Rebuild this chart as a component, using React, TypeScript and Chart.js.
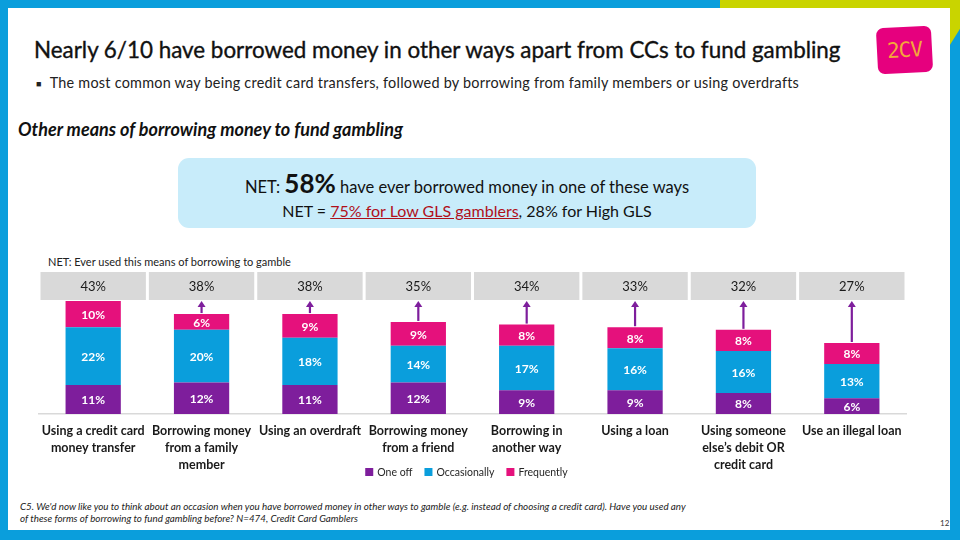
import React, { useEffect, useRef } from "react";
import { Chart, registerables } from "chart.js";
Chart.register(...registerables);

const categories: string[][] = [
  ["Using a credit card", "money transfer"],
  ["Borrowing money", "from a family", "member"],
  ["Using an overdraft"],
  ["Borrowing money", "from a friend"],
  ["Borrowing in", "another way"],
  ["Using a loan"],
  ["Using someone", "else\u2019s debit OR", "credit card"],
  ["Use an illegal loan"],
];
const oneOff = [11, 12, 11, 12, 9, 9, 8, 6];
const occasionally = [22, 20, 18, 14, 17, 16, 16, 13];
const frequently = [10, 6, 9, 9, 8, 8, 8, 8];
const netValues = [43, 38, 38, 35, 34, 33, 32, 27];
const seriesLabels = ["One off", "Occasionally", "Frequently"];
const seriesColors = ["#7e1e9c", "#0a9edc", "#e5117c"];

const FONT = "Lato, 'Open Sans', sans-serif";

const decor = {
  id: "decor",
  beforeDatasetsDraw(chart: any) {
    const { ctx, chartArea, scales } = chart;
    const x = scales.x;
    const y = scales.y;
    const step = x.getPixelForValue(1) - x.getPixelForValue(0);
    const boxH = 28;
    ctx.save();
    for (let i = 0; i < categories.length; i++) {
      const cx = x.getPixelForValue(i);
      ctx.fillStyle = "#d9d9d9";
      ctx.fillRect(cx - step / 2 + 1.5, chartArea.top, step - 3, boxH);
      ctx.fillStyle = "#1a1a1a";
      ctx.font = `13px ${FONT}`;
      ctx.textAlign = "center";
      ctx.textBaseline = "middle";
      ctx.fillText(netValues[i] + "%", cx, chartArea.top + boxH / 2 + 1);
      if (i >= 1) {
        const total = oneOff[i] + occasionally[i] + frequently[i];
        const barTop = y.getPixelForValue(total);
        const tipY = chartArea.top + boxH + 1;
        ctx.strokeStyle = "#7e1e9c";
        ctx.lineWidth = 2.2;
        ctx.beginPath();
        ctx.moveTo(cx, barTop - 1);
        ctx.lineTo(cx, tipY + 5);
        ctx.stroke();
        ctx.fillStyle = "#7e1e9c";
        ctx.beginPath();
        ctx.moveTo(cx, tipY);
        ctx.lineTo(cx - 4, tipY + 6);
        ctx.lineTo(cx + 4, tipY + 6);
        ctx.closePath();
        ctx.fill();
      }
    }
    ctx.restore();
  },
  afterDatasetsDraw(chart: any) {
    const { ctx } = chart;
    ctx.save();
    ctx.font = `bold 12px ${FONT}`;
    ctx.fillStyle = "#ffffff";
    ctx.textAlign = "center";
    ctx.textBaseline = "middle";
    chart.data.datasets.forEach((ds: any, di: number) => {
      const meta = chart.getDatasetMeta(di);
      meta.data.forEach((el: any, i: number) => {
        const p = el.getProps(["x", "y", "base"], true);
        ctx.fillText(ds.data[i] + "%", p.x, (p.y + p.base) / 2 + 1);
      });
    });
    ctx.restore();
  },
  afterDraw(chart: any) {
    const { ctx, chartArea } = chart;
    ctx.save();
    ctx.font = `10.5px ${FONT}`;
    ctx.textBaseline = "middle";
    const sq = 8;
    const gap = 4;
    const spacing = 12;
    const widths = seriesLabels.map((l) => ctx.measureText(l).width);
    const total = widths.reduce((a, w) => a + sq + gap + w, 0) + spacing * (seriesLabels.length - 1);
    let lx = (chartArea.left + chartArea.right) / 2 - 6 - total / 2;
    const ly = 222;
    seriesLabels.forEach((l, i) => {
      ctx.fillStyle = seriesColors[i];
      ctx.fillRect(lx, ly - sq / 2, sq, sq);
      ctx.fillStyle = "#262626";
      ctx.textAlign = "left";
      ctx.fillText(l, lx + sq + gap, ly + 1);
      lx += sq + gap + widths[i] + spacing;
    });
    ctx.restore();
  },
};

function ChartBox() {
  const ref = useRef<HTMLCanvasElement>(null);
  useEffect(() => {
    if (!ref.current) return;
    const chart = new Chart(ref.current, {
      type: "bar",
      data: {
        labels: categories,
        datasets: [
          { label: seriesLabels[0], data: oneOff, backgroundColor: seriesColors[0] },
          { label: seriesLabels[1], data: occasionally, backgroundColor: seriesColors[1] },
          { label: seriesLabels[2], data: frequently, backgroundColor: seriesColors[2] },
        ],
      },
      options: {
        animation: false,
        responsive: false,
        maintainAspectRatio: false,
        layout: { padding: { top: 22, bottom: 16, left: 9, right: 24 } },
        datasets: { bar: { barPercentage: 0.51, categoryPercentage: 1 } },
        plugins: { legend: { display: false }, tooltip: { enabled: false }, title: { display: false } },
        scales: {
          x: {
            stacked: true,
            grid: { display: false, drawTicks: false },
            border: { display: true, color: "#d9d9d9", width: 1.5 },
            ticks: {
              autoSkip: false,
              maxRotation: 0,
              minRotation: 0,
              padding: 9,
              color: "#1a1a1a",
              font: { family: FONT, size: 12.5, weight: "bold", lineHeight: 1.35 },
            },
            afterFit: (scale: any) => {
              scale.height = 60;
            },
          },
          y: { stacked: true, display: false, min: 0, max: 54 },
        },
      },
      plugins: [decor],
    } as any);
    return () => chart.destroy();
  }, []);
  return (
    <canvas
      ref={ref}
      width={900}
      height={240}
      style={{ position: "absolute", left: 30, top: 250, width: 900, height: 240 }}
    />
  );
}

export default function App() {
  return (
    <div
      style={{
        position: "fixed",
        left: 0,
        top: 0,
        width: 960,
        height: 540,
        background: "#0a9edc",
        overflow: "hidden",
        fontFamily: FONT,
        color: "#1a1a1a",
      }}
    >
      <div style={{ position: "absolute", left: 720, top: 0, width: 240, height: 8, background: "#c9d400" }} />
      <div
        style={{
          position: "absolute",
          left: 948,
          top: 0,
          width: 12,
          height: 48,
          background: "#c9d400",
          clipPath: "polygon(0 0, 100% 0, 100% 60%, 0 100%)",
        }}
      />
      <div style={{ position: "absolute", left: 8, top: 8, width: 942, height: 522, background: "#ffffff" }} />
      <div
        style={{
          position: "absolute",
          left: 34,
          top: 36,
          fontSize: 22.4,
          fontWeight: "normal",
          whiteSpace: "nowrap",
          color: "#111",
          WebkitTextStroke: "0.35px #111",
        } as any}
      >
        Nearly 6/10 have borrowed money in other ways apart from CCs to fund gambling
      </div>
      <div
        style={{
          position: "absolute",
          left: 877,
          top: 27,
          width: 55,
          height: 46,
          background: "#e6007e",
          borderRadius: 7,
          transform: "rotate(-3deg)",
          color: "#f3a83a",
          fontSize: 21,
          lineHeight: "46px",
          textAlign: "center",
          fontFamily: "'DejaVu Sans Mono', monospace",
          letterSpacing: -1,
        }}
      >
        2CV
      </div>
      <div
        style={{
          position: "absolute",
          left: 36,
          top: 74,
          fontSize: 14.4,
          whiteSpace: "nowrap",
          color: "#222",
          letterSpacing: 0.25,
        }}
      >
        <span style={{ fontSize: 9, marginRight: 8, verticalAlign: 1 }}>{"\u25A0"}</span>
        The most common way being credit card transfers, followed by borrowing from family members or using overdrafts
      </div>
      <div
        style={{
          position: "absolute",
          left: 18,
          top: 118,
          fontSize: 18,
          fontWeight: "bold",
          fontStyle: "italic",
          whiteSpace: "nowrap",
          color: "#111",
        }}
      >
        Other means of borrowing money to fund gambling
      </div>
      <div
        style={{
          position: "absolute",
          left: 178,
          top: 158,
          width: 578,
          height: 70,
          background: "#c8ecfa",
          borderRadius: 11,
          textAlign: "center",
          color: "#111",
        }}
      >
        <div style={{ position: "absolute", left: 0, right: 0, top: 9, fontSize: 16.5, whiteSpace: "nowrap" }}>
          NET: <span style={{ fontSize: 26, fontWeight: "bold" }}>58%</span> have ever borrowed money in one of these ways
        </div>
        <div style={{ position: "absolute", left: 0, right: 0, top: 43, fontSize: 16, whiteSpace: "nowrap" }}>
          NET = <span style={{ color: "#b0101a", textDecoration: "underline" }}>75% for Low GLS gamblers</span>, 28% for High GLS
        </div>
      </div>
      <div style={{ position: "absolute", left: 48, top: 255, fontSize: 11, whiteSpace: "nowrap", color: "#222" }}>
        NET: Ever used this means of borrowing to gamble
      </div>
      <ChartBox />
      <div
        style={{
          position: "absolute",
          left: 20,
          top: 500,
          fontSize: 9.8,
          fontStyle: "italic",
          lineHeight: "12px",
          color: "#222",
          whiteSpace: "nowrap",
        }}
      >
        <div>
          C5. We'd now like you to think about an occasion when you have borrowed money in other ways to gamble (e.g.
          instead of choosing a credit card). Have you used any
        </div>
        <div>of these forms of borrowing to fund gambling before? N=474, Credit Card Gamblers</div>
      </div>
      <div style={{ position: "absolute", left: 940, top: 518, fontSize: 8, color: "#333" }}>12</div>
    </div>
  );
}
